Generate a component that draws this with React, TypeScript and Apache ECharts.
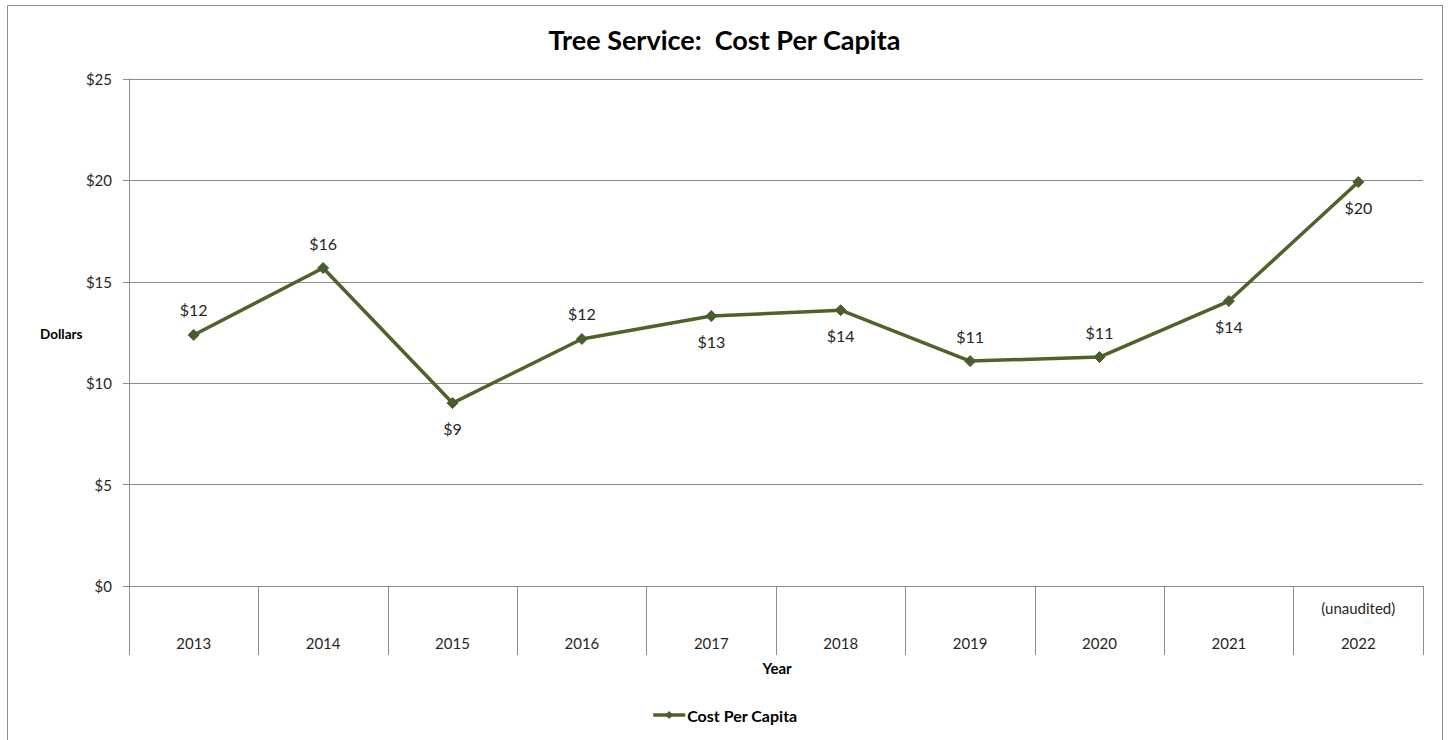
import React, { useEffect, useRef } from "react";
import * as echarts from "echarts";

const years = ["2013", "2014", "2015", "2016", "2017", "2018", "2019", "2020", "2021", "2022"];
const yearNotes = ["", "", "", "", "", "", "", "", "", "(unaudited)"];
const costPerCapita = [12.38, 15.68, 9.02, 12.18, 13.31, 13.6, 11.09, 11.29, 14.05, 19.92];
const labelSide = ["top", "top", "bottom", "top", "bottom", "bottom", "top", "top", "bottom", "bottom"];
const yTicks = { min: 0, max: 25, interval: 5 };

const FONT = "Lato, 'Open Sans', sans-serif";
const GRID_COLOR = "#8c8c8c";
const LINE_COLOR = "#4f6228";
const TEXT_COLOR = "#262626";

export default function App() {
  const ref = useRef<HTMLDivElement>(null);
  useEffect(() => {
    if (!ref.current) return;
    const chart = echarts.init(ref.current, null, { renderer: "svg" });
    chart.setOption({
      animation: false,
      backgroundColor: "#ffffff",
      textStyle: { fontFamily: FONT },
      title: {
        text: "Tree Service:  Cost Per Capita",
        left: "center",
        top: 21,
        textStyle: { fontFamily: FONT, fontSize: 27, fontWeight: "bold", color: "#000000" },
      },
      grid: { left: 129, top: 79, right: 26, bottom: 154, containLabel: false },
      legend: {
        bottom: 12,
        left: "center",
        itemWidth: 32,
        itemHeight: 10,
        itemGap: 10,
        lineStyle: { width: 3.5 },
        textStyle: { fontFamily: FONT, fontSize: 16, fontWeight: "bold", color: "#000000", padding: [0, 0, 0, -3] },
        data: ["Cost Per Capita"],
      },
      xAxis: {
        type: "category",
        data: years,
        boundaryGap: true,
        axisLine: { show: true, lineStyle: { color: GRID_COLOR, width: 1 } },
        axisTick: { show: true, alignWithLabel: false, interval: 0, length: 69, lineStyle: { color: GRID_COLOR } },
        axisLabel: {
          interval: 0,
          margin: 4,
          formatter: (value: string, idx: number) => `{n|${yearNotes[idx] || " "}}\n{y|${value}}`,
          rich: {
            n: { fontFamily: FONT, fontSize: 15, color: TEXT_COLOR, lineHeight: 35 },
            y: { fontFamily: FONT, fontSize: 15, color: TEXT_COLOR, lineHeight: 35 },
          },
        },
        splitLine: { show: false },
      },
      yAxis: {
        type: "value",
        min: yTicks.min,
        max: yTicks.max,
        interval: yTicks.interval,
        axisLine: { show: true, lineStyle: { color: GRID_COLOR, width: 1 } },
        axisTick: { show: true, length: 6, lineStyle: { color: GRID_COLOR } },
        axisLabel: {
          margin: 17,
          formatter: (v: number) => `$${v}`,
          fontFamily: FONT,
          fontSize: 15,
          color: TEXT_COLOR,
        },
        splitLine: { show: true, lineStyle: { color: GRID_COLOR, width: 1 } },
      },
      series: [
        {
          name: "Cost Per Capita",
          type: "line",
          data: costPerCapita.map((v, i) => ({
            value: v,
            label: { position: labelSide[i] },
          })),
          symbol: "diamond",
          symbolSize: 11,
          lineStyle: { color: LINE_COLOR, width: 3.5 },
          itemStyle: { color: "#4a5c2e", borderColor: "#4a5c2e" },
          label: {
            show: true,
            distance: 11,
            formatter: (p: any) => `$${Math.round(p.value)}`,
            fontFamily: FONT,
            fontSize: 16,
            color: TEXT_COLOR,
          },
          z: 3,
        },
      ],
      graphic: [
        {
          type: "rect",
          shape: { x: 7.5, y: 5.5, width: 1435, height: 800 },
          style: { fill: "none", stroke: "#8c8c8c", lineWidth: 1 },
          silent: true,
        },
        {
          type: "text",
          x: 40,
          y: 334,
          style: {
            text: "Dollars",
            fontFamily: FONT,
            fontSize: 13.5,
            fontWeight: "bold",
            fill: "#000000",
            textAlign: "left",
            textVerticalAlign: "middle",
          },
        },
        {
          type: "text",
          x: 777,
          y: 668,
          style: {
            text: "Year",
            fontFamily: FONT,
            fontSize: 15,
            fontWeight: "bold",
            fill: "#000000",
            textAlign: "center",
            textVerticalAlign: "middle",
          },
        },
      ],
    });
    return () => chart.dispose();
  }, []);
  return (
    <div
      ref={ref}
      style={{ position: "fixed", left: 0, top: 0, width: 1449, height: 740, background: "#fff" }}
    />
  );
}
